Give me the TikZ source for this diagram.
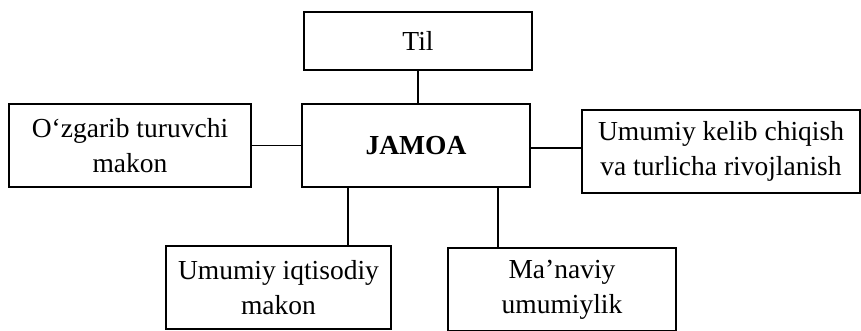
\documentclass[tikz,border=0pt]{standalone}
\usepackage{fontspec}
\setmainfont{Liberation Serif}
\begin{document}
\begin{tikzpicture}[x=1pt,y=1pt,line width=1.3pt,
		box/.style={draw,align=center,inner sep=0pt,font=\fontsize{27.5}{35}\selectfont}]
			\useasboundingbox (0,0) rectangle (861,-330);
			
			% center
			\node[box,minimum width=228,minimum height=83] (jamoa) at (416,-145.5) {\textbf{JAMOA}};
			% top
			\node[box,minimum width=228,minimum height=58] (til) at (418,-41) {Til};
			% sides
			\node[box,minimum width=242,minimum height=83] (makon) at (130,-145.5) {O‘zgarib turuvchi\\makon};
			\node[box,minimum width=278,minimum height=83] (kelib) at (721,-151.5) {Umumiy kelib chiqish\\va turlicha rivojlanish};
			% bottom
			\node[box,minimum width=225,minimum height=83] (iqtisod) at (278.5,-287.5) {Umumiy iqtisodiy\\makon};
			\node[box,minimum width=228,minimum height=83] (manaviy) at (562,-289.5) {Ma’naviy\\umumiylik};
			
			\draw (til.south) -- (til.south |- jamoa.north);
			\draw (makon.east) -- (makon.east -| jamoa.west);
			\draw ([yshift=-2.5pt]jamoa.east) -- ([yshift=-2.5pt]jamoa.east -| kelib.west);
			\draw ([xshift=-68pt]jamoa.south) -- ([xshift=-68pt]jamoa.south |- iqtisod.north);
			\draw ([xshift=82pt]jamoa.south) -- ([xshift=82pt]jamoa.south |- manaviy.north);
		\end{tikzpicture}
\end{document}
